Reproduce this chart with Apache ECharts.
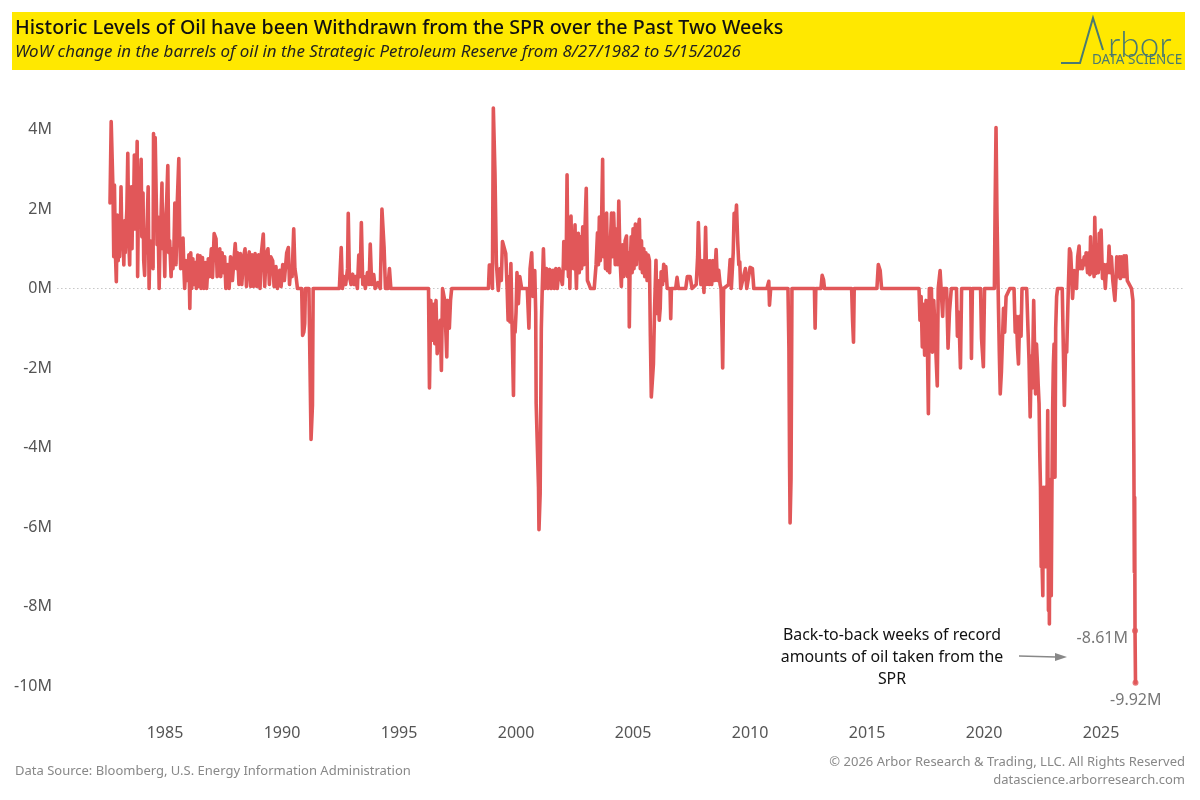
<!DOCTYPE html>
<html><head><meta charset="utf-8">
<script src="https://cdn.jsdelivr.net/npm/echarts@6/dist/echarts.min.js"></script>
<style>html,body{margin:0;background:#fff}#c{width:1200px;height:800px}</style></head>
<body><div id="c"></div>
<script>
const titleText = "Historic Levels of Oil have been Withdrawn from the SPR over the Past Two Weeks";
const subtitleText = "WoW change in the barrels of oil in the Strategic Petroleum Reserve from 8/27/1982 to 5/15/2026";
const sourceText = "Data Source: Bloomberg, U.S. Energy Information Administration";
const copyrightText = "© 2026 Arbor Research & Trading, LLC. All Rights Reserved";
const siteText = "datascience.arborresearch.com";
const noteLines = ["Back-to-back weeks of record", "amounts of oil taken from the", "SPR"];

// [year, change in millions of barrels]
const era1982 = [[1982.65,2.15],[1982.70,4.2],[1982.76,4.2],[1982.78,2.4],[1982.81,.8],[1982.84,2.6],[1982.88,.9],[1982.92,.17],[1982.96,1.85],[1983.0,.7],[1983.03,1.5],[1983.06,.8],[1983.09,1.4],[1983.12,2.56],[1983.16,1.0],[1983.2,1.5],[1983.24,.59],[1983.27,1.7],[1983.3,.9],[1983.34,1.6],[1983.37,2.0],[1983.41,3.4],[1983.45,1.2],[1983.49,.59],[1983.52,2.0],[1983.56,2.56],[1983.59,1.0],[1983.62,2.3],[1983.65,1.8],[1983.69,3.36],[1983.73,1.5],[1983.76,2.8],[1983.78,2.4],[1983.81,3.7],[1983.83,.3],[1983.87,2.5],[1983.9,1.6],[1983.94,2.6],[1983.98,3.25],[1984.01,1.3],[1984.03,2.3],[1984.06,2.4],[1984.09,.7],[1984.13,.33],[1984.17,1.4],[1984.2,.9],[1984.24,1.7],[1984.28,2.56],[1984.32,0],[1984.36,1.2],[1984.4,.7],[1984.44,1.1],[1984.49,.5],[1984.51,3.9],[1984.56,1.6],[1984.58,3.8],[1984.63,3.84],[1984.66,1.1],[1984.7,1.8],[1984.75,0],[1984.79,1.3],[1984.83,1.8],[1984.87,2.65],[1984.9,1.0],[1984.94,1.6],[1984.99,.3],[1985.03,1.8],[1985.07,2.2],[1985.12,3.09],[1985.16,.9],[1985.2,1.2],[1985.26,.3],[1985.3,1.0],[1985.34,.5],[1985.38,1.0],[1985.42,2.15],[1985.47,.6],[1985.52,2.1],[1985.59,3.27],[1985.63,1.2],[1985.67,.5],[1985.72,.8],[1985.77,1.27],[1985.8,.6],[1985.84,0],[1985.9,.7],[1985.96,.2],[1986.02,.85],[1986.06,-.5]];
const era1986 = [[1986.1,.9],[1986.14,0],[1986.19,.75],[1986.24,.1],[1986.3,.65],[1986.34,0],[1986.4,.84],[1986.45,.05],[1986.5,.82],[1986.54,0],[1986.6,.78],[1986.66,0],[1986.72,.65],[1986.78,0],[1986.85,.75],[1986.9,.3],[1986.98,1.0],[1987.03,.28],[1987.1,1.38],[1987.18,1.25],[1987.23,.3],[1987.28,.35],[1987.34,1.0],[1987.38,.3],[1987.44,.9],[1987.5,.4],[1987.55,.8],[1987.6,0],[1987.68,.6],[1987.74,0],[1987.8,.8],[1987.88,.2],[1988.0,1.13],[1988.06,.5],[1988.1,.9],[1988.16,.1],[1988.22,.88],[1988.28,.1],[1988.36,.8],[1988.42,1.0],[1988.48,.05],[1988.54,.7],[1988.6,.92],[1988.66,.05],[1988.72,.85],[1988.78,.05],[1988.85,.88],[1988.92,.05],[1989.0,.85],[1989.06,.0],[1989.12,.9],[1989.2,1.37],[1989.26,.05],[1989.32,.85],[1989.4,1.0],[1989.46,.1],[1989.52,.8],[1989.6,.7],[1989.66,.05],[1989.74,.55],[1989.8,0],[1989.9,.46],[1989.96,.05],[1990.03,.6],[1990.1,.2],[1990.2,.9],[1990.27,1.03],[1990.32,.1],[1990.38,.55],[1990.43,.3],[1990.5,1.5],[1990.55,.5],[1990.6,.3],[1990.66,0]];
const era1990 = [[1990.84,0],[1990.88,-1.18],[1990.93,-1.1],[1990.97,-.88],[1991.0,0],[1991.15,0],[1991.18,-1.3],[1991.24,-3.8],[1991.3,-2.94],[1991.33,0],[1992.45,0],[1992.53,1.03],[1992.58,0],[1992.65,.3],[1992.72,.1],[1992.8,.5],[1992.83,1.89],[1992.88,.3],[1992.95,.1],[1993.02,.36],[1993.08,.1],[1993.15,.3],[1993.22,0],[1993.28,.84],[1993.34,.3],[1993.39,1.66],[1993.45,.1],[1993.5,.3],[1993.56,0],[1993.65,.4],[1993.72,.1],[1993.77,1.12],[1993.83,.1],[1993.92,.35],[1993.98,0],[1994.1,.15],[1994.2,0],[1994.27,2.0],[1994.36,1.05],[1994.42,0],[1994.52,0],[1994.59,.5],[1994.65,0],[1995.6,0],[1995.66,.03],[1995.7,0],[1996.26,0],[1996.3,-2.5],[1996.36,-.3],[1996.42,-1.3],[1996.47,-.4],[1996.53,-1.39],[1996.58,-.3],[1996.63,-1.64],[1996.7,-1.0],[1996.76,-.8],[1996.81,-2.06],[1996.86,0],[1996.95,-.3],[1997.04,-1.72],[1997.08,-.3],[1997.15,-1.0],[1997.2,-.3],[1997.25,0],[1998.15,0],[1998.2,.05],[1998.24,0],[1998.82,0]];
const era1999 = [[1998.86,.59],[1998.95,.6],[1998.99,0],[1999.03,4.54],[1999.1,2.9],[1999.16,.63],[1999.24,-.05],[1999.32,.5],[1999.37,.2],[1999.42,1.18],[1999.5,1.22],[1999.56,.88],[1999.62,0],[1999.66,-.8],[1999.7,.3],[1999.74,-.84],[1999.78,.63],[1999.83,-.9],[1999.89,-2.69],[1999.92,-.9],[1999.96,-1.1],[2000.0,-.6],[2000.04,.4],[2000.1,-.38],[2000.16,.3],[2000.24,0],[2000.48,0],[2000.55,-1.0],[2000.6,.5],[2000.67,.9],[2000.72,-.2],[2000.8,.45],[2000.84,-.6],[2000.86,-2.9],[2000.93,-2.9],[2000.96,-5.0],[2000.98,-6.07],[2001.03,-5.17],[2001.08,-1.0],[2001.12,0],[2001.17,1.0],[2001.22,0],[2001.3,.5],[2001.36,0],[2001.44,.48],[2001.5,0],[2001.58,.46],[2001.63,0],[2001.7,.5],[2001.76,0],[2001.84,.5],[2001.92,.55],[2001.98,.1],[2002.02,.6],[2002.04,1.18],[2002.07,.5],[2002.1,1.1],[2002.14,.5],[2002.18,2.86],[2002.21,.9],[2002.24,.3],[2002.27,1.4],[2002.3,0],[2002.35,1.82],[2002.38,.6],[2002.42,1.3],[2002.46,.5],[2002.52,1.6],[2002.55,.6],[2002.58,0],[2002.63,1.2],[2002.66,1.39],[2002.7,.4],[2002.76,1.3],[2002.8,.5],[2002.85,1.55],[2002.9,.6],[2002.94,1.4],[2003.0,2.52],[2003.05,.2],[2003.12,.1],[2003.18,0],[2003.34,0],[2003.42,.6],[2003.48,1.4],[2003.52,.6],[2003.56,1.8],[2003.6,.7],[2003.65,1.5],[2003.7,3.25],[2003.73,.8],[2003.78,1.7],[2003.82,.5],[2003.87,1.9],[2003.91,.45],[2003.95,1.1],[2004.0,.4],[2004.04,1.3],[2004.08,1.9],[2004.12,.8],[2004.17,1.9],[2004.2,1.93],[2004.24,.6],[2004.3,1.5],[2004.35,.6],[2004.39,2.2],[2004.44,.8],[2004.5,.05],[2004.55,1.1],[2004.6,.3],[2004.66,1.2],[2004.72,1.32],[2004.76,.3],[2004.82,.9],[2004.84,-.97],[2004.87,.4],[2004.92,1.3],[2004.96,.4],[2005.0,1.5],[2005.04,.5],[2005.1,1.62],[2005.14,.6],[2005.2,1.4],[2005.27,1.74],[2005.31,.5],[2005.36,1.2],[2005.4,.4],[2005.46,1.0],[2005.5,.3],[2005.55,.9],[2005.6,.2],[2005.65,.84],[2005.7,.7],[2005.74,-1.2],[2005.78,-2.73],[2005.83,-2.7],[2005.87,-1.9],[2005.92,-.5],[2005.98,.71],[2006.02,-.63],[2006.06,.2],[2006.12,-.8],[2006.16,-.5],[2006.2,.42],[2006.26,.1],[2006.31,.61],[2006.36,.2],[2006.4,.55],[2006.46,0],[2006.58,0],[2006.61,-.76],[2006.64,0],[2006.82,0],[2006.88,.28],[2006.94,0],[2007.25,0],[2007.32,.3],[2007.44,.3],[2007.52,0],[2007.7,.1],[2007.76,.8],[2007.79,1.66],[2007.84,.67],[2007.9,.1],[2007.96,.7],[2008.03,-.1],[2008.07,.7],[2008.1,1.54],[2008.15,.1],[2008.2,.7],[2008.26,.1],[2008.3,.7],[2008.36,.1],[2008.42,.7],[2008.48,.2],[2008.55,.98],[2008.6,.2],[2008.66,.46],[2008.72,.1],[2008.76,0],[2008.8,-1.0],[2008.83,-2.0],[2008.87,0],[2009.08,.1],[2009.15,.73],[2009.2,0],[2009.28,.9],[2009.32,1.89],[2009.38,1.7],[2009.42,2.1],[2009.47,1.2],[2009.52,.6],[2009.56,.67],[2009.6,0],[2009.8,.5],[2009.86,0],[2010.0,.53],[2010.1,.5],[2010.16,0],[2010.72,0],[2010.8,.18],[2010.83,-.42],[2010.88,0]];
const era2011 = [[2011.62,0],[2011.66,-1.5],[2011.69,-4.5],[2011.71,-5.9],[2011.75,-4.8],[2011.79,0],[2012.75,0],[2012.78,-1.0],[2012.81,0],[2013.03,0],[2013.08,.33],[2013.14,.22],[2013.18,0],[2014.34,0],[2014.38,-.8],[2014.42,-1.35],[2014.45,0],[2015.42,0],[2015.48,.6],[2015.56,.45],[2015.62,0]];
const era2017 = [[2017.22,0],[2017.26,-.8],[2017.31,-.2],[2017.36,-1.47],[2017.4,-.4],[2017.46,-1.68],[2017.52,-.3],[2017.58,-1.5],[2017.62,-3.15],[2017.66,0],[2017.75,0],[2017.79,-1.6],[2017.85,-.3],[2017.92,-1.3],[2018.0,-2.45],[2018.04,0],[2018.12,.45],[2018.2,.43],[2018.23,-.7],[2018.27,0],[2018.4,0],[2018.46,-1.5],[2018.52,-.6],[2018.6,0],[2018.82,0],[2018.86,-1.2],[2018.92,-.6],[2018.99,-2.0],[2019.04,0],[2019.43,0],[2019.46,-1.76],[2019.5,0],[2019.85,0],[2019.89,-1.25],[2019.97,-1.97],[2020.02,0],[2020.44,0],[2020.47,2.0],[2020.51,4.05],[2020.55,1.9],[2020.6,0],[2020.65,-1.6],[2020.69,-2.65],[2020.74,-2.1],[2020.79,-1.2],[2020.83,-.5],[2020.88,-1.1],[2020.94,-.2],[2021.1,0],[2021.28,0],[2021.33,-1.1],[2021.38,-.7],[2021.43,-1.5],[2021.47,-1.9],[2021.52,-.7],[2021.58,-1.2],[2021.62,0],[2021.82,0],[2021.88,-1.1],[2021.92,-1.8],[2021.97,-3.23],[2022.02,-1.7],[2022.06,-2.5],[2022.12,-.3],[2022.17,-1.9],[2022.2,-2.65],[2022.24,-1.4],[2022.28,-1.9],[2022.31,-2.4],[2022.35,-2.9],[2022.38,-4.15],[2022.41,-5.0],[2022.44,-7.0],[2022.46,-5.3],[2022.48,-7.0],[2022.51,-7.73],[2022.53,-5.0],[2022.55,-6.9],[2022.57,-5.1],[2022.59,-6.7],[2022.61,-5.0],[2022.64,-7.0],[2022.66,-5.0],[2022.68,-6.6],[2022.7,-4.4],[2022.72,-3.07],[2022.74,-6.5],[2022.75,-8.1],[2022.77,-5.0],[2022.79,-8.44],[2022.81,-5.0],[2022.83,-7.0],[2022.85,-4.8],[2022.87,-7.73],[2022.9,-5.0],[2022.93,-3.0],[2022.96,-1.93],[2022.99,-1.4],[2023.03,-4.75],[2023.06,-1.0],[2023.1,-.2],[2023.14,0],[2023.34,0],[2023.39,-1.6],[2023.43,-2.94],[2023.48,-1.5],[2023.53,-1.6],[2023.56,-.9],[2023.6,0],[2023.65,1.0],[2023.7,.9],[2023.74,.4],[2023.78,-.25],[2023.85,.45],[2023.9,.3],[2023.95,0],[2024.0,.8],[2024.06,1.07],[2024.1,.5],[2024.15,.7],[2024.2,.5],[2024.28,.8],[2024.33,.6],[2024.36,.9],[2024.42,.4],[2024.47,.9],[2024.52,.35],[2024.55,1.3],[2024.6,.4],[2024.65,.9],[2024.7,.3],[2024.73,1.79],[2024.78,.38],[2024.84,1.1],[2024.88,.4],[2024.92,1.39],[2024.97,.5],[2025.0,1.47],[2025.06,.25],[2025.12,.6],[2025.18,0],[2025.24,.6],[2025.3,.4],[2025.34,1.07],[2025.39,.4],[2025.44,.8],[2025.5,.2],[2025.59,-.3],[2025.64,.3],[2025.67,.8],[2025.72,.3],[2025.78,.8],[2025.82,.25],[2025.86,.8],[2025.9,.82],[2025.94,.3],[2025.98,.82],[2026.02,.3],[2026.07,.82],[2026.12,.2],[2026.2,.15],[2026.3,0]];
const drawdown = [[2026.36,-.3],[2026.40,-4.15],[2026.42,-7.14],[2026.435,-5.25],[2026.45,-8.61],[2026.47,-9.92]];
const lastWeeks = [[2026.45,-8.61,"-8.61M"],[2026.47,-9.92,"-9.92M"]];
const xRange = [1980,2028.5];
const yRange = [-10,6];

const lineData = [...era1982,...era1986,...era1990,...era1999,...era2011,...era2017,...drawdown];
const font = '"Noto Sans","Open Sans",sans-serif';
const red = '#E15759';
const logo = '#4A7A70';
const chart = echarts.init(document.getElementById('c'));
chart.setOption({
  animation:false,
  backgroundColor:'#fff',
  grid:{left:48,top:50,width:1135,height:636},
  xAxis:{type:'value',min:xRange[0],max:xRange[1],interval:5,
    splitLine:{show:false},axisLine:{show:false},axisTick:{show:false},
    axisLabel:{showMinLabel:false,showMaxLabel:false,margin:39,color:'#555',fontSize:16,fontFamily:font,formatter:v=>String(v)}},
  yAxis:{type:'value',min:yRange[0],max:yRange[1],interval:2,
    splitLine:{show:false},axisLine:{show:false},axisTick:{show:false},
    axisLabel:{showMaxLabel:false,margin:-4,color:'#555',fontSize:16,fontFamily:font,formatter:v=>v+'M'}},
  series:[
    {type:'line',data:lineData,showSymbol:false,clip:false,z:3,
     lineStyle:{color:red,width:3.6,join:'round',cap:'round'},
     markLine:{silent:true,symbol:'none',z:1,label:{show:false},
       lineStyle:{color:'#aaa',type:[1,3],width:1},
       data:[[{coord:[1980.4,0]},{coord:[2028.5,0]}]]}},
    {type:'scatter',data:lastWeeks,symbolSize:6,clip:false,z:4,itemStyle:{color:red},
     label:{show:true,color:'#555',fontSize:16,fontFamily:font,
       formatter:p=>p.data[2],
       position:'left'},
     labelLayout:p=>p.dataIndex===1?{dy:18,dx:34}:{dy:8,dx:1}}
  ],
  graphic:[
    {type:'rect',z:-1,shape:{x:12,y:12,width:1173,height:58},style:{fill:'#FFE800'}},
    {type:'text',left:15,top:18,style:{text:titleText,fill:'#111',fontSize:19.7,fontWeight:500,fontFamily:font}},
    {type:'text',left:15,top:44,style:{text:subtitleText,fill:'#222',fontSize:16.9,fontStyle:'italic',fontFamily:font}},
    {type:'polyline',shape:{points:[[1061,63],[1080,63],[1093,18],[1103,50]]},style:{stroke:logo,fill:'none',lineWidth:2}},
    {type:'text',left:1108,top:28,style:{text:'rbor',fill:logo,fontSize:35,fontFamily:'Lato,"Noto Sans"',fontWeight:300}},
    {type:'text',left:1092,top:53,style:{text:'DATA SCIENCE',fill:logo,fontSize:13.5,fontFamily:font}},
    {type:'text',left:15,top:765,style:{text:sourceText,fill:'#888',fontSize:13,fontFamily:font}},
    {type:'text',right:15,top:756,style:{text:copyrightText,fill:'#888',fontSize:13,fontFamily:font}},
    {type:'text',right:15,top:774,style:{text:siteText,fill:'#888',fontSize:13,fontFamily:font}},
    {type:'text',x:892,y:657,style:{text:noteLines.join('\n'),fill:'#111',fontSize:15.9,lineHeight:22,align:'center',verticalAlign:'middle',fontFamily:font}},
    {type:'line',shape:{x1:1019,y1:656,x2:1056,y2:657},style:{stroke:'#888',lineWidth:1.6}},
    {type:'polygon',shape:{points:[[1055,653],[1067,657],[1055,661]]},style:{fill:'#888'}}
  ]
});
</script></body></html>
